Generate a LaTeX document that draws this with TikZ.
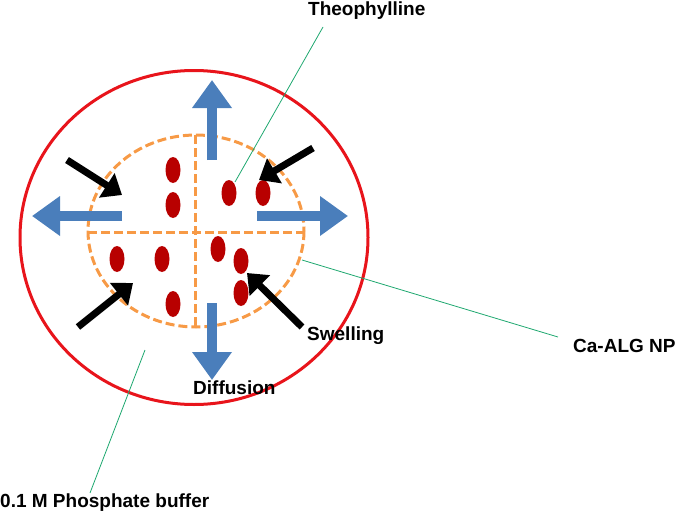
\documentclass[tikz,border=0pt]{standalone}
\usepackage{fontspec}
\setmainfont{Liberation Sans}
\usetikzlibrary{arrows.meta,shapes.geometric}
\definecolor{redline}{HTML}{E8141B}
\definecolor{orangedash}{HTML}{F79A46}
\definecolor{bluearr}{HTML}{4A7EBB}
\definecolor{dotred}{HTML}{B80000}
\definecolor{greenline}{HTML}{1FA870}
\tikzset{
  lbl/.style={font=\fontsize{19}{22}\selectfont\bfseries, anchor=base west, inner sep=0pt},
  dot/.style={fill=dotred, draw=none, ellipse, minimum width=15pt, minimum height=26pt, inner sep=0pt},
  fatarrow/.style={draw=bluearr, line width=10pt, -{Triangle[length=28pt,width=38pt]}},
  blackarrow/.style={draw=black, line width=7pt, -{Triangle[length=18pt,width=28pt]}},
  leader/.style={draw=greenline, line width=0.8pt},
  dashline/.style={draw=orangedash, line width=3pt, dash pattern=on 9pt off 4pt}
}
\begin{document}
\begin{tikzpicture}[x=1pt,y=-1pt]
\useasboundingbox (0,0) rectangle (685,514);
% outer red ellipse
\draw[redline, line width=3pt] (194,237.5) ellipse [x radius=174, y radius=167];
% orange dashed ellipse and cross
\draw[dashline] (196,231) ellipse [x radius=108, y radius=96];
\coordinate (hl) at (88,232);
\coordinate (hr) at (303,232);
\coordinate (vt) at (195,135);
\coordinate (vb) at (195,327);
\draw[dashline] (hl) -- (hr);
\draw[dashline] (vt) -- (vb);
% red dots
\node[dot] (d1) at (173,170) {};
\node[dot] (d2) at (173,205) {};
\node[dot] (d3) at (229,193) {};
\node[dot] (d4) at (263,193) {};
\node[dot] (d5) at (117,259) {};
\node[dot] (d6) at (162,259) {};
\node[dot] (d7) at (173,304) {};
\node[dot] (d8) at (218,249) {};
\node[dot] (d9) at (241,261) {};
\node[dot] (d10) at (241,293) {};
% blue arrows
\coordinate (ua0) at (212,160); \coordinate (ua1) at (212,80);
\coordinate (la0) at (122,216); \coordinate (la1) at (32,216);
\coordinate (ra0) at (257,216); \coordinate (ra1) at (348,216);
\coordinate (da0) at (212,303); \coordinate (da1) at (212,380);
\draw[fatarrow] (ua0) -- (ua1);
\draw[fatarrow] (la0) -- (la1);
\draw[fatarrow] (ra0) -- (ra1);
\draw[fatarrow] (da0) -- (da1);
% black arrows
\coordinate (b1a) at (67,160); \coordinate (b1b) at (122,195);
\coordinate (b2a) at (313,148); \coordinate (b2b) at (259,180);
\coordinate (b3a) at (78,327); \coordinate (b3b) at (133,283);
\coordinate (b4a) at (302,327); \coordinate (b4b) at (247,273);
\draw[blackarrow] (b1a) -- (b1b);
\draw[blackarrow] (b2a) -- (b2b);
\draw[blackarrow] (b3a) -- (b3b);
\draw[blackarrow] (b4a) -- (b4b);
% labels
\node[lbl] (theo) at (308,15) {Theophylline};
\node[lbl] (swell) at (307,340) {Swelling};
\node[lbl] (diff) at (193,394) {Diffusion};
\node[lbl] (caalg) at (573,352) {Ca-ALG NP};
\node[lbl] (phos) at (0,507) {0.1 M Phosphate buffer};
% leader lines
\coordinate (t1) at (323,27); \coordinate (t2) at (235,182);
\coordinate (c1) at (302,260); \coordinate (c2) at (558,337);
\coordinate (p1) at (145,350); \coordinate (p2) at (90,493);
\draw[leader] (t1) -- (t2);
\draw[leader] (c1) -- (c2);
\draw[leader] (p1) -- (p2);
\end{tikzpicture}
\end{document}
